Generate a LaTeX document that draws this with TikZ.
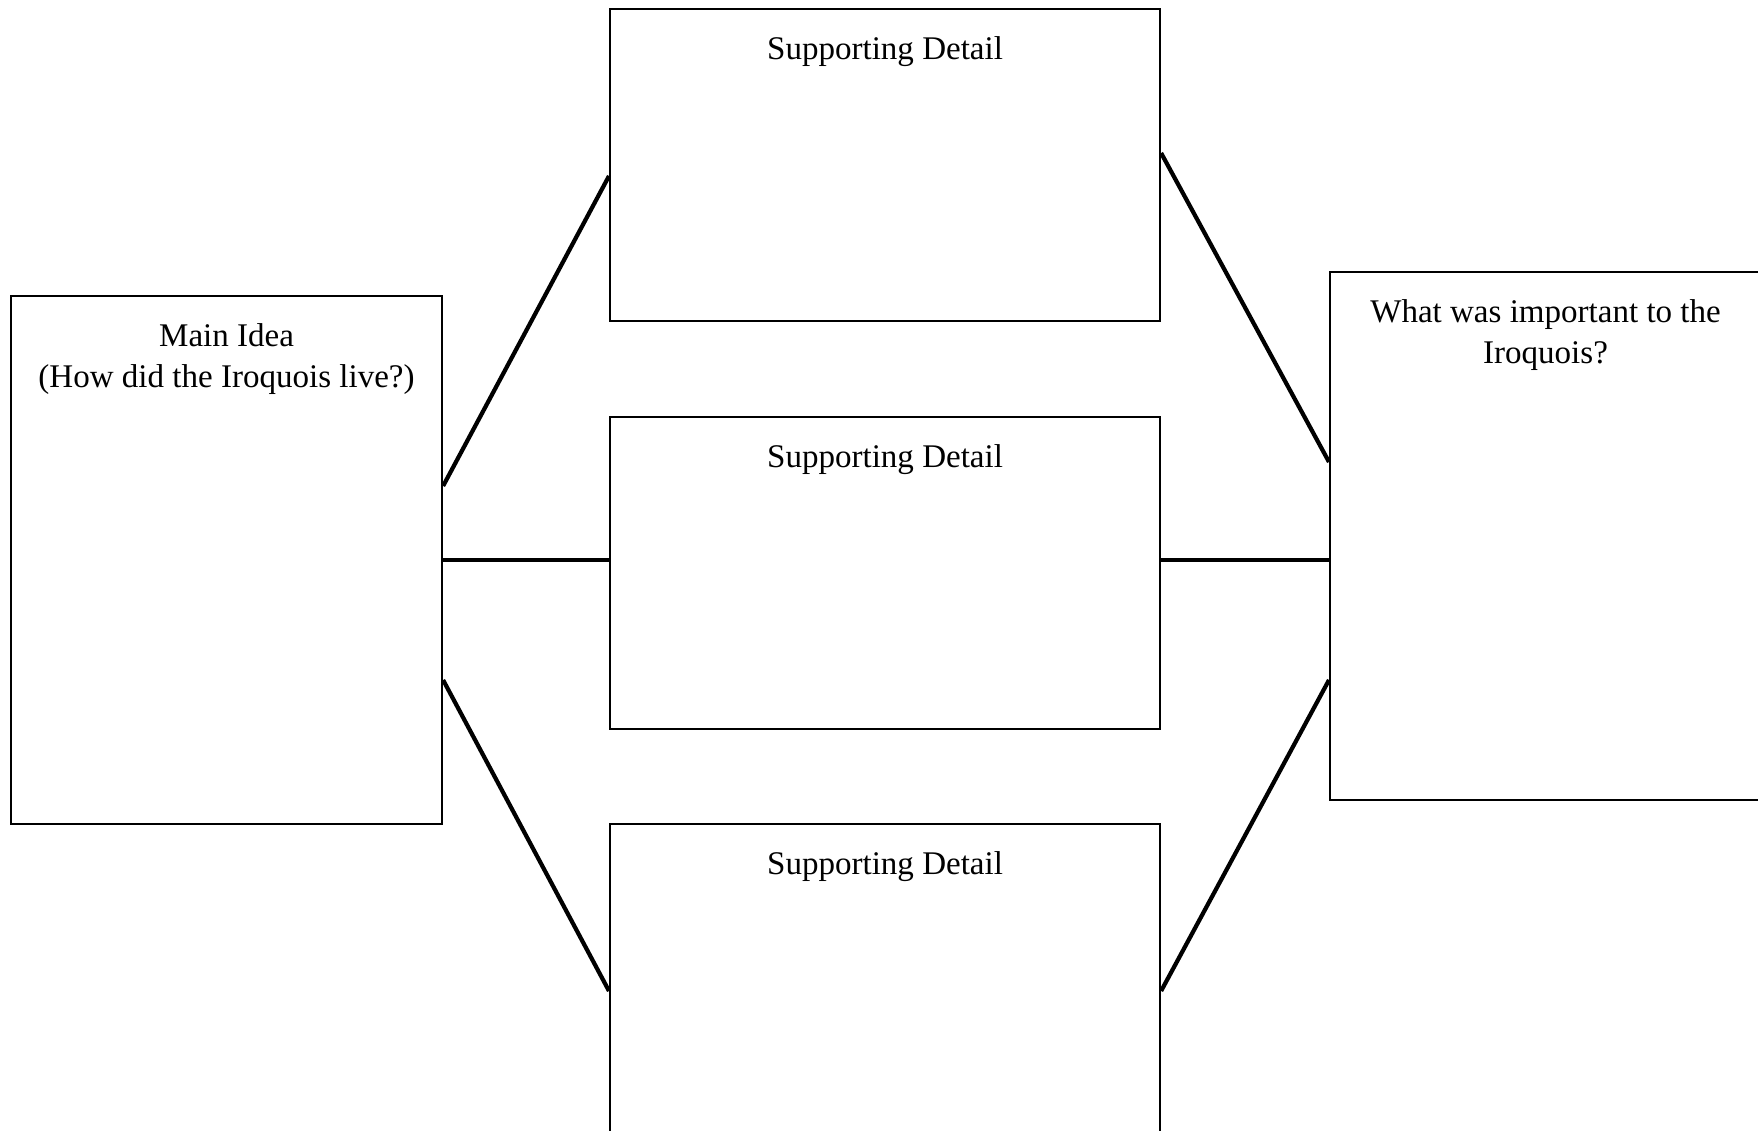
\documentclass[tikz,border=0pt]{standalone}
\usepackage{fontspec}
\setmainfont{Liberation Serif}
\usetikzlibrary{calc,positioning}

\tikzset{
	organizer/.style={draw=black, line width=0.6pt, fill=none, inner sep=0pt, anchor=north west},
	mainbox/.style={organizer, minimum width=43.1mm, minimum height=52.8mm},
	detailbox/.style={organizer, minimum width=55mm, minimum height=31.2mm},
	boxtitle/.style={anchor=north, inner sep=0pt, yshift=-8pt, align=center,
		font=\fontsize{9.4}{11.5}\selectfont},
	link/.style={line width=1.2pt, line cap=butt}
}

\begin{document}
\begin{tikzpicture}[x=0.1mm, y=-0.1mm]
			%%%%% START %%%%%
			
			\useasboundingbox (0, 0) rectangle (1758, 1131);
			\clip (0, 0) rectangle (1758, 1131);
			
			\node[mainbox, label={[boxtitle]north:Main Idea\\(How did the Iroquois live?)}] (main) at (10, 295) {};
			
			\node[detailbox, label={[boxtitle]north:Supporting Detail}] (topdetail) at (609, 8) {};
			\node[detailbox, label={[boxtitle]north:Supporting Detail}] (middetail) at (609, 416) {};
			\node[detailbox, label={[boxtitle]north:Supporting Detail}] (botdetail) at (609, 823) {};
			
			\node[mainbox, label={[boxtitle]north:What was important to the\\Iroquois?}] (important) at (1329, 271) {};
			
			\draw[link] ($(main.north east)+(0, 191)$) -- ($(topdetail.north west)+(0, 168)$);
			\draw[link] ($(main.north east)+(0, 265)$) -- ($(middetail.north west)+(0, 144)$);
			\draw[link] ($(main.north east)+(0, 385)$) -- ($(botdetail.north west)+(0, 168)$);
			
			\draw[link] ($(topdetail.north east)+(0, 145)$) -- ($(important.north west)+(0, 191)$);
			\draw[link] ($(middetail.north east)+(0, 144)$) -- ($(important.north west)+(0, 289)$);
			\draw[link] ($(botdetail.north east)+(0, 168)$) -- ($(important.north west)+(0, 409)$);
			
			%%%%% END %%%%%
\end{tikzpicture}
\end{document}
